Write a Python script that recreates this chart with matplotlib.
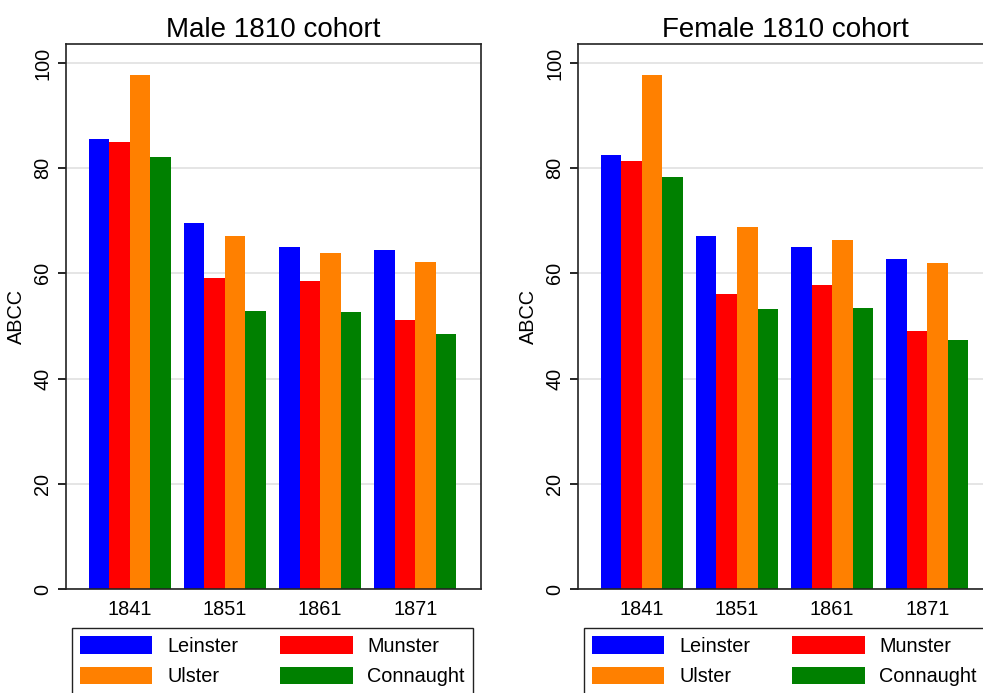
import matplotlib
matplotlib.use("Agg")
import matplotlib.pyplot as plt
import numpy as np

plt.rcParams['font.family'] = ['Liberation Sans', 'DejaVu Sans']

years = ['1841', '1851', '1861', '1871']
provinces = ['Leinster', 'Munster', 'Ulster', 'Connaught']
colors = ['#0000ff', '#ff0000', '#ff8000', '#008000']

# ABCC by province, male 1810 cohort
male_leinster = [85.6, 69.6, 65.1, 64.4]
male_munster = [84.9, 59.1, 58.5, 51.2]
male_ulster = [97.8, 67.1, 63.8, 62.1]
male_connaught = [82.2, 52.9, 52.7, 48.4]

# ABCC by province, female 1810 cohort
female_leinster = [82.5, 67.1, 65.0, 62.7]
female_munster = [81.4, 56.0, 57.7, 49.1]
female_ulster = [97.8, 68.8, 66.3, 61.9]
female_connaught = [78.4, 53.3, 53.5, 47.4]

fig = plt.figure(figsize=(9.83, 6.93), dpi=100)
ax1 = fig.add_axes([0.0671, 0.150, 0.4222, 0.7865])
ax2 = fig.add_axes([0.5880, 0.150, 0.4222, 0.7865])

x = np.arange(1, len(years) + 1)
width = 0.216


def draw(ax, series, title):
    bars = []
    for i, (vals, c) in enumerate(zip(series, colors)):
        b = ax.bar(x + (i - 1.5) * width, vals, width, color=c, label=provinces[i],
                   zorder=2, linewidth=0)
        bars.append(b)
    ax.set_xlim(0.33, 4.69)
    ax.set_ylim(0, 103.6)
    ax.set_yticks([0, 20, 40, 60, 80, 100])
    ax.set_xticks(x, years)
    ax.tick_params(axis='x', length=0, labelsize=14.3, pad=8)
    ax.tick_params(axis='y', length=6, width=1.2, labelsize=14.3, labelrotation=90, pad=4)
    for lab in ax.get_yticklabels():
        lab.set_verticalalignment('center')
    ax.yaxis.grid(True, color='#e0e0e0', linewidth=1.2, zorder=0)
    ax.set_axisbelow(True)
    for s in ax.spines.values():
        s.set_linewidth(1.2)
        s.set_color('#222222')
    ax.set_ylabel('ABCC', fontsize=14.3, labelpad=5)
    ax.set_title(title, fontsize=20, pad=5)
    handles = [bars[0], bars[2], bars[1], bars[3]]
    labels = [provinces[0], provinces[2], provinces[1], provinces[3]]
    leg = ax.legend(handles, labels, ncol=2, loc='upper left',
                    bbox_to_anchor=(0.0145, -0.3, 0.966, 0.2284), mode='expand',
                    borderaxespad=0, fontsize=14.3, handlelength=3.65,
                    handleheight=1.0, handletextpad=0.75, labelspacing=0.55,
                    fancybox=False, edgecolor='#222222', framealpha=1,
                    borderpad=0.4)
    leg.get_frame().set_linewidth(1.0)


draw(ax1, [male_leinster, male_munster, male_ulster, male_connaught], 'Male 1810 cohort')
draw(ax2, [female_leinster, female_munster, female_ulster, female_connaught], 'Female 1810 cohort')

fig.savefig('out.png', dpi=100)
